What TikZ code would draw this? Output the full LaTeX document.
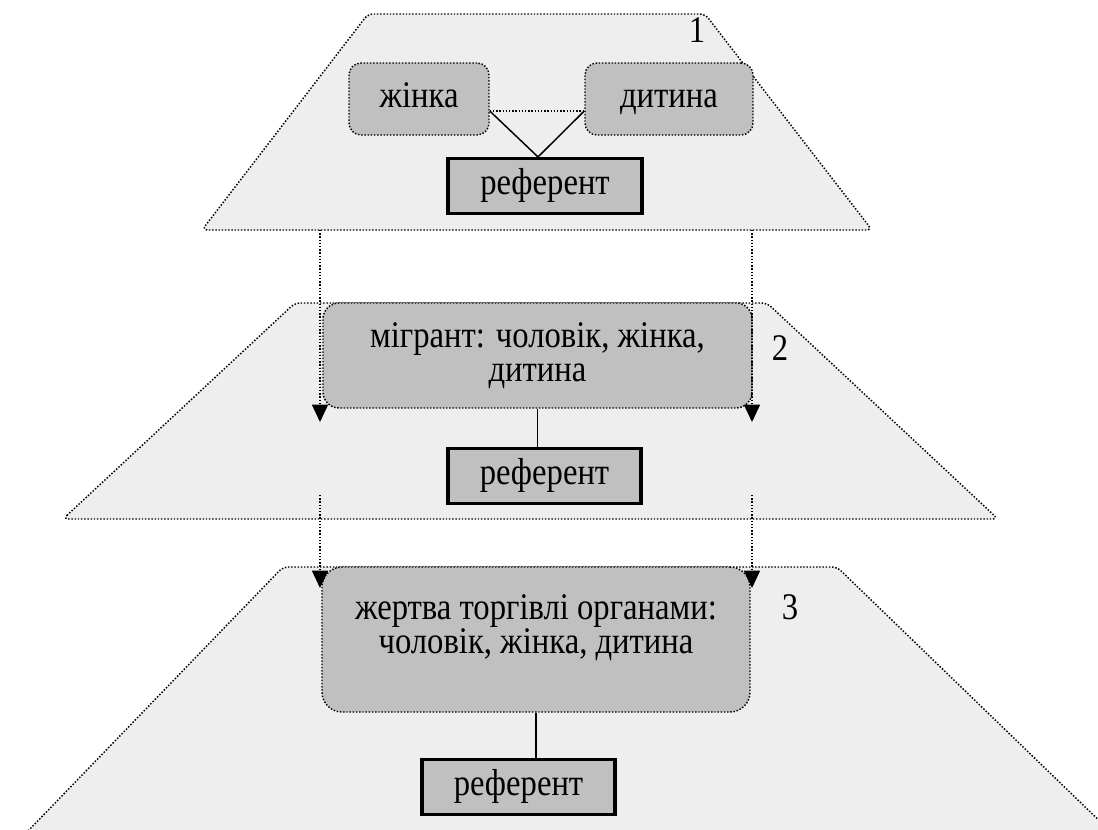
\documentclass[tikz,border=0pt]{standalone}
\usepackage{graphicx}
\usepackage{fontspec}
\setmainfont{Liberation Serif}
\newfontfamily\diagfont{Liberation Serif}
\usetikzlibrary{arrows.meta,calc}
\definecolor{layerfill}{HTML}{EEEEEE}
\definecolor{boxfill}{HTML}{C0C0C0}
% lettering is set slightly tall and narrow
\newcommand\stretchtext[1]{\scalebox{1}[1.15]{#1}}
\tikzset{
  dots/.style={line width=1.1pt, dash pattern=on 1.1pt off 1.3pt},
  layer/.style={dots, fill=layerfill, rounded corners=4pt},
  concept/.style={draw, dots, fill=boxfill, rounded corners=9pt, inner sep=0pt, align=center},
  oneline/.style={text height=17pt, text depth=5pt},
  refbox/.style={draw, line width=2.6pt, fill=boxfill, inner sep=0pt, minimum height=41pt, oneline},
  link/.style={line width=1.1pt},
  flow/.style={dots, -{Triangle[length=13pt,width=12pt]}},
  every node/.style={font=\diagfont\fontsize{24.5pt}{24pt}\selectfont},
}
\begin{document}
\begin{tikzpicture}[x=0.75pt,y=-0.75pt]
\useasboundingbox (0,0) rectangle (1098,829);
\clip (0,0) rectangle (1098,829);

% three levels
\draw[layer] (202,230) -- (368,14) -- (705,14) -- (872,230) -- cycle;
\draw[layer] (63,519) -- (295,303) -- (767,303) -- (998,519) -- cycle;
\draw[layer] (0,860) -- (283,567) -- (837,567) -- (1140,860) -- cycle;

% level 1
\node[concept, oneline, minimum width=105pt, minimum height=54pt] (zhinka) at (419,99) {\stretchtext{жінка}};
\node[concept, oneline, minimum width=126pt, minimum height=54pt] (dytyna) at (669,99) {\stretchtext{дитина}};
\node[refbox, minimum width=145.5pt] (ref1) at (545,186) {\stretchtext{референт}};
\node (n1) at (697,30) {\stretchtext{1}};

\coordinate (zl) at ($(zhinka.east)+(0,12)$);
\coordinate (dl) at ($(dytyna.west)+(0,12)$);
\coordinate (meet) at ($(ref1.north)+(-7,0)$);
\draw[dots] (zl) -- (dl);
\draw[link] (zl) -- (meet) -- (dl);

% level 2
\node[concept, minimum width=321.75pt, minimum height=78.75pt, rounded corners=12pt,
      font=\diagfont\fontsize{24.5pt}{25.5pt}\selectfont] (migr) at (537.5,355.5)
  {\stretchtext{мігрант: чоловік, жінка,}\\\stretchtext{дитина}};
\node[refbox, minimum width=144.75pt] (ref2) at (544.5,476) {\stretchtext{референт}};
\node (n2) at (780,348) {\stretchtext{2}};
\draw[link] (migr.south) -- (migr.south |- ref2.north);

% level 3: the two lines sit in the upper part of the box
\node[concept, minimum width=321pt, minimum height=108.75pt, rounded corners=15pt] (victim) at (536,639.5)
  {\stretchtext{жертва торгівлі органами:}\\\stretchtext{чоловік, жінка, дитина}\\[-1pt]};
\node[refbox, minimum width=144.75pt] (ref3) at (518.5,787) {\stretchtext{референт}};
\node (n3) at (790,607) {\stretchtext{3}};
\draw[link] (victim.south) -- (victim.south |- ref3.north);

% transitions between levels
\coordinate (s1) at (320,230); \coordinate (e1) at (320,422);
\coordinate (s2) at (752,230); \coordinate (e2) at (752,422);
\coordinate (s3) at (320,495); \coordinate (e3) at (320,588);
\coordinate (s4) at (752,495); \coordinate (e4) at (752,588);
\draw[flow] (s1) -- (e1);
\draw[flow] (s2) -- (e2);
\draw[flow] (s3) -- (e3);
\draw[flow] (s4) -- (e4);
\end{tikzpicture}
\end{document}
